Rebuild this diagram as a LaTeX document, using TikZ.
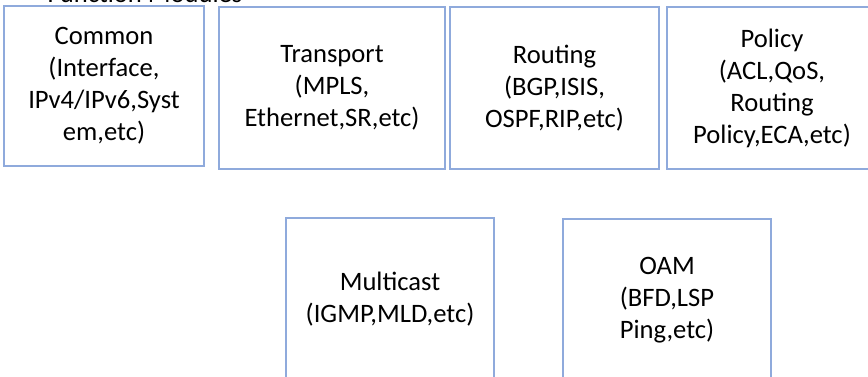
\documentclass[tikz,border=0pt]{standalone}
\usepackage{fontspec}
\setmainfont{Carlito}
\definecolor{boxblue}{RGB}{143,170,220}
\begin{document}
\begin{tikzpicture}[x=1pt,y=-1pt,
	txt/.style={font=\fontsize{26.6}{32}\selectfont},
	module/.style={txt,draw=boxblue,line width=1.2pt,align=center,inner sep=0,
	minimum width=#1,minimum height=162pt},
	module/.default=208pt]
\path[use as bounding box,clip] (0,0) rectangle (868,376);
\node[txt,anchor=base] (title) at (145,2) {Function Modules};
\node[module=200pt,minimum height=160pt] (common) at (104,86)
	{Common\\(Interface,\\IPv4/IPv6,Syst\\em,etc)};
\node[module=226pt] (transport) at (332,88)
	{Transport\\(MPLS,\\Ethernet,SR,etc)};
\node[module=209pt] (routing) at (554.5,88)
	{Routing\\(BGP,ISIS,\\OSPF,RIP,etc)};
\node[module=210pt] (policy) at (772,88)
	{Policy\\(ACL,QoS,\\Routing\\Policy,ECA,etc)};
\node[module] (multicast) at (390,299)
	{Multicast\\(IGMP,MLD,etc)};
\node[module] (oam) at (667,300)
	{OAM\\(BFD,LSP\\Ping,etc)};
\end{tikzpicture}
\end{document}
